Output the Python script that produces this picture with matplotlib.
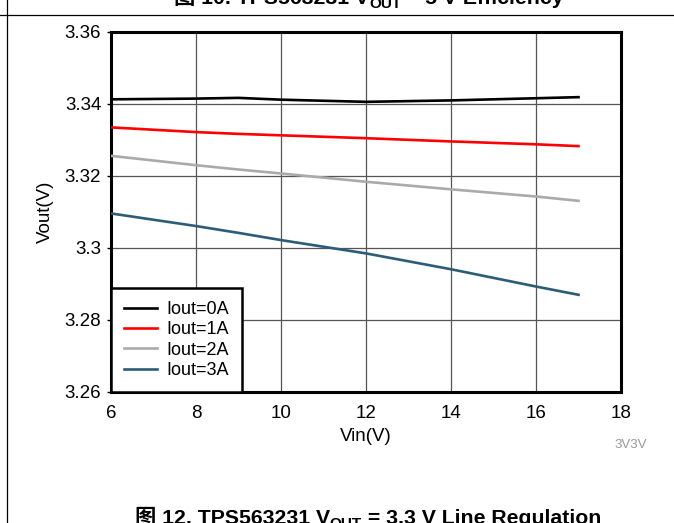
import matplotlib
matplotlib.use('Agg')
import matplotlib.pyplot as plt

plt.rcParams['font.family'] = ['Liberation Sans', 'Noto Sans CJK SC', 'DejaVu Sans']

# 读数据
vin = [6, 8, 9, 10, 12, 14, 16, 17]
iout_0a = [3.3413, 3.3415, 3.3417, 3.3412, 3.3406, 3.3410, 3.3416, 3.3419]
iout_1a = [3.3335, 3.3322, 3.3317, 3.3313, 3.3305, 3.3296, 3.3288, 3.3283]
iout_2a = [3.3256, 3.3230, 3.3218, 3.3207, 3.3184, 3.3163, 3.3143, 3.3131]
iout_3a = [3.3096, 3.3061, 3.3042, 3.3022, 3.2985, 3.2941, 3.2893, 3.2870]
labels = ['Iout=0A', 'Iout=1A', 'Iout=2A', 'Iout=3A']
colors = ['#000000', '#ff0000', '#aaaaaa', '#2b5c78']
xticks = [6, 8, 10, 12, 14, 16, 18]
yticks = [3.26, 3.28, 3.30, 3.32, 3.34, 3.36]
ytick_labels = ['3.26', '3.28', '3.3', '3.32', '3.34', '3.36']

W, H = 674, 523
fig = plt.figure(figsize=(W / 100, H / 100), dpi=100)
ax = fig.add_axes([111 / W, 1 - 392 / H, 510 / W, 360 / H])

for ys, lab, c in zip([iout_0a, iout_1a, iout_2a, iout_3a], labels, colors):
    ax.plot(vin, ys, color=c, lw=1.9, label=lab, zorder=3)

ax.set_xlim(6, 18)
ax.set_ylim(3.26, 3.36)
ax.set_xticks(xticks)
ax.set_yticks(yticks)
ax.set_yticklabels(ytick_labels)
ax.tick_params(axis='x', length=0, pad=9.5, labelsize=13.5)
ax.tick_params(axis='y', length=3, width=1, pad=4, labelsize=13.5)
ax.grid(True, color='#555555', lw=0.9)
for s in ax.spines.values():
    s.set_linewidth(2.2)

ax.set_xlabel('Vin(V)', fontsize=13.5)
ax.set_ylabel('Vout(V)', fontsize=13.5)
ax.xaxis.set_label_coords(0.5, -0.1)
ax.yaxis.set_label_coords(-0.112, 0.5)

leg = ax.legend(loc='lower left', borderaxespad=0, fontsize=13, handlelength=1.8,
                labelspacing=0.18, fancybox=False, framealpha=1, borderpad=0.72,
                handletextpad=0.55)
leg.get_frame().set_edgecolor('black')
leg.get_frame().set_linewidth(1.8)

fig.text(631 / W, 1 - 445 / H, '3V3V', color='#999999', fontsize=9.5, ha='center', va='center')

# 外框线
fig.add_artist(plt.Line2D([0, 1], [1 - 15 / H, 1 - 15 / H], color='black', lw=0.9, transform=fig.transFigure))
fig.add_artist(plt.Line2D([7 / W, 7 / W], [0, 1], color='black', lw=0.9, transform=fig.transFigure))


def caption(xc, yb, parts, size=15.3):
    # 分段写标题，下标单独缩小
    r = fig.canvas.get_renderer()
    objs = []
    for txt, sub in parts:
        fs = size * 0.72 if sub else size
        t = fig.text(0, 0, txt, fontsize=fs, fontweight='bold', va='baseline', ha='left')
        objs.append((t, sub))
    widths = [t.get_window_extent(r).width for t, _ in objs]
    x = xc - sum(widths) / 2
    for (t, sub), w in zip(objs, widths):
        y = yb + (4 if sub else 0)
        t.set_position((x / W, 1 - y / H))
        x += w


caption(369, 4, [('图 10. TPS563231 V', False), ('OUT', True), (' = 5 V Efficiency', False)])
caption(368, 524, [('图 12. TPS563231 V', False), ('OUT', True), (' = 3.3 V Line Regulation', False)])

fig.savefig('out.png', dpi=100)
